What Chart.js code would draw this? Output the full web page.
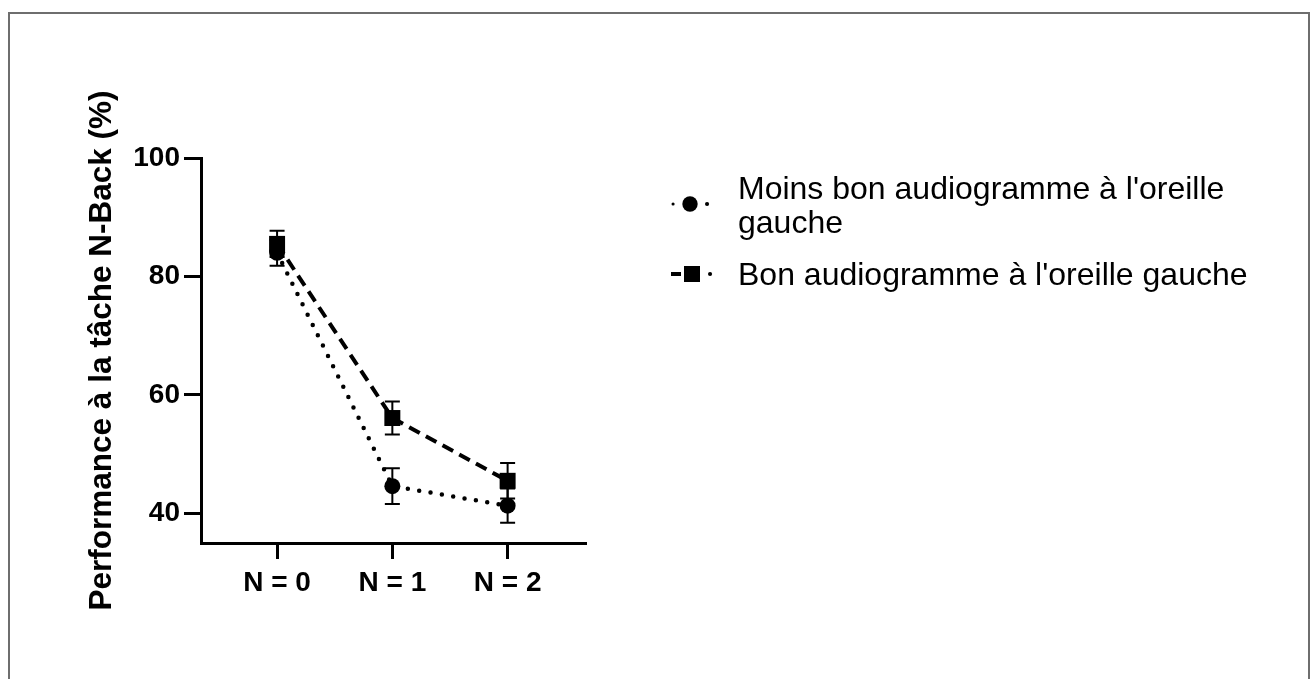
<!DOCTYPE html>
<html>
<head>
<meta charset="utf-8">
<script src="https://cdn.jsdelivr.net/npm/chart.js@4/dist/chart.umd.min.js"></script>
<style>
  html, body { margin: 0; padding: 0; background: #fff; overflow: hidden; }
  #wrap { position: relative; width: 1314px; height: 679px; }
  #frame { position: absolute; left: 8px; top: 12px; width: 1302px; height: 700px;
           box-sizing: border-box; border: 2px solid #6e6e6e; border-bottom: none; pointer-events: none; }
</style>
</head>
<body>
<div id="wrap">
  <canvas id="chart" width="1314" height="679"></canvas>
  <div id="frame"></div>
</div>
<script>
// categories and values
const categories = ['N = 0', 'N = 1', 'N = 2'];
const yTicks = [40, 60, 80, 100];

const moinsBonLabel = ["Moins bon audiogramme à l'oreille", 'gauche'];
const moinsBon = [84.0, 44.6, 41.3];
const moinsBonErr = [2.2, 3.0, 2.9];

const bonLabel = ["Bon audiogramme à l'oreille gauche"];
const bon = [85.5, 56.1, 45.5];
const bonErr = [2.2, 2.8, 3.0];

const FONT = '"Liberation Sans", Arial, Helvetica, sans-serif';

function toPoints(values) {
  return values.map((v, i) => ({ x: i, y: v }));
}

// error bars drawn through the chart scales, under the markers
const errorBars = {
  id: 'errorBars',
  beforeDatasetsDraw(chart) {
    const ctx = chart.ctx;
    const xs = chart.scales.x, ys = chart.scales.y;
    ctx.save();
    ctx.strokeStyle = '#000';
    ctx.lineWidth = 2;
    chart.data.datasets.forEach(ds => {
      ds.data.forEach((p, i) => {
        const e = ds.errors[i];
        const x = xs.getPixelForValue(p.x);
        const yTop = ys.getPixelForValue(p.y + e);
        const yBot = ys.getPixelForValue(p.y - e);
        ctx.beginPath();
        ctx.moveTo(x, yTop); ctx.lineTo(x, yBot);
        ctx.moveTo(x - 7.5, yTop); ctx.lineTo(x + 7.5, yTop);
        ctx.moveTo(x - 7.5, yBot); ctx.lineTo(x + 7.5, yBot);
        ctx.stroke();
      });
    });
    ctx.restore();
  }
};

// legend on the right side
const sideLegend = {
  id: 'sideLegend',
  afterDraw(chart) {
    const ctx = chart.ctx;
    const sets = chart.data.datasets;
    ctx.save();
    ctx.fillStyle = '#000';
    ctx.strokeStyle = '#000';
    ctx.font = '32px ' + FONT;
    ctx.textBaseline = 'alphabetic';
    ctx.textAlign = 'left';

    // entry 1: two lines of text, dotted sample with circle
    sets[0].legendText.forEach((t, i) => ctx.fillText(t, 738, 199 + i * 34));
    let y = 204;
    ctx.lineCap = 'round';
    ctx.lineWidth = 3;
    ctx.beginPath(); ctx.moveTo(673, y); ctx.lineTo(673.1, y); ctx.stroke();
    ctx.lineWidth = 4;
    ctx.beginPath(); ctx.moveTo(707, y); ctx.lineTo(707.1, y); ctx.stroke();
    ctx.beginPath(); ctx.arc(690, y, 7.7, 0, Math.PI * 2); ctx.fill();

    // entry 2: dashed sample with square
    sets[1].legendText.forEach((t, i) => ctx.fillText(t, 738, 285 + i * 34));
    y = 274;
    ctx.lineCap = 'butt';
    ctx.beginPath(); ctx.moveTo(671, y); ctx.lineTo(681, y); ctx.stroke();
    ctx.lineCap = 'round';
    ctx.beginPath(); ctx.moveTo(710, y); ctx.lineTo(710.1, y); ctx.stroke();
    ctx.fillRect(684, y - 8, 16, 16);
    ctx.restore();
  }
};

new Chart(document.getElementById('chart'), {
  type: 'line',
  data: {
    datasets: [
      {
        label: moinsBonLabel.join(' '),
        legendText: moinsBonLabel,
        data: toPoints(moinsBon),
        errors: moinsBonErr,
        borderColor: '#000',
        backgroundColor: '#000',
        borderWidth: 4.5,
        borderDash: [0, 11.5],
        borderCapStyle: 'round',
        pointStyle: 'circle',
        pointRadius: 8,
        pointBorderWidth: 0,
        pointBackgroundColor: '#000',
        tension: 0
      },
      {
        label: bonLabel.join(' '),
        legendText: bonLabel,
        data: toPoints(bon),
        errors: bonErr,
        borderColor: '#000',
        backgroundColor: '#000',
        borderWidth: 4,
        borderDash: [12, 7],
        borderCapStyle: 'butt',
        pointStyle: 'rect',
        pointRadius: 11.3,
        pointBorderWidth: 0,
        pointBackgroundColor: '#000',
        tension: 0
      }
    ]
  },
  options: {
    responsive: false,
    animation: false,
    layout: { padding: { left: 79, top: 158, right: 728, bottom: 0 } },
    plugins: {
      legend: { display: false },
      tooltip: { enabled: false }
    },
    scales: {
      x: {
        type: 'linear',
        min: -0.66,
        max: 2.68,
        afterBuildTicks: scale => { scale.ticks = categories.map((c, i) => ({ value: i })); },
        afterFit: scale => { scale.height = 136; },
        border: { display: true, color: '#000', width: 3 },
        grid: { drawOnChartArea: false, drawTicks: true, tickLength: 16, tickWidth: 3, tickColor: '#000' },
        ticks: {
          color: '#000',
          padding: 7,
          font: { family: FONT, size: 28, weight: 'bold' },
          callback: v => categories[v]
        }
      },
      y: {
        min: 35,
        max: 100,
        afterBuildTicks: scale => { scale.ticks = yTicks.map(v => ({ value: v })); },
        afterFit: scale => { scale.width = 122; },
        border: { display: true, color: '#000', width: 3 },
        grid: { drawOnChartArea: false, drawTicks: true, tickLength: 17, tickWidth: 3, tickColor: '#000' },
        ticks: {
          color: '#000',
          padding: 4,
          font: { family: FONT, size: 28, weight: 'bold' }
        },
        title: {
          display: true,
          text: 'Performance à la tâche N-Back (%)',
          color: '#000',
          padding: { top: 4, bottom: 0 },
          font: { family: FONT, size: 31.5, weight: 'bold', lineHeight: 1.2 }
        }
      }
    }
  },
  plugins: [errorBars, sideLegend]
});
</script>
</body>
</html>
